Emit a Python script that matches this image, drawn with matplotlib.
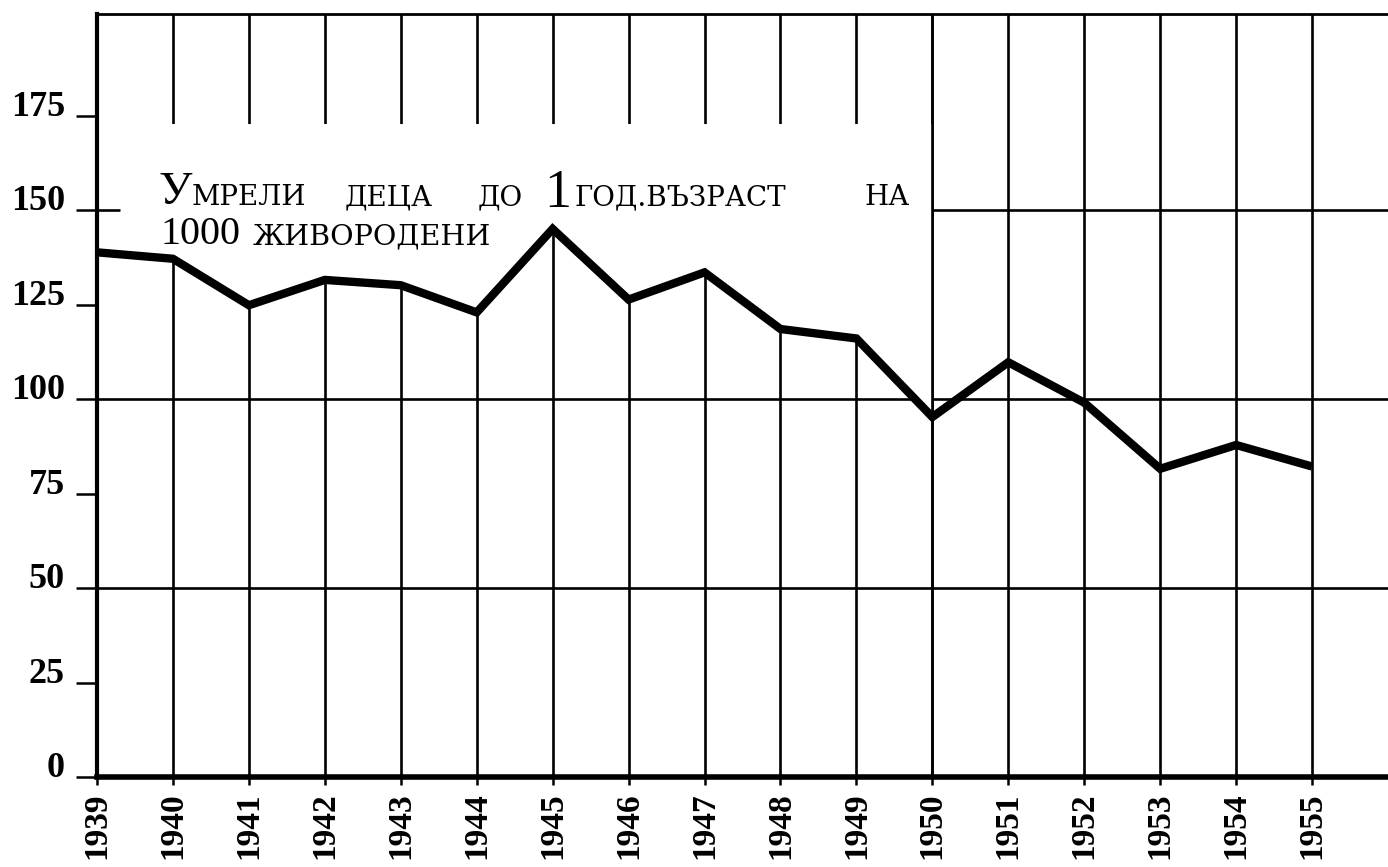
import matplotlib
matplotlib.use("Agg")
import matplotlib.pyplot as plt

# ---- data ----
years = list(range(1939, 1956))
deaths = [138.9, 137.2, 124.9, 131.6, 130.2, 123.0, 145.1, 126.4, 133.6,
          118.6, 116.1, 95.3, 109.8, 99.1, 81.6, 87.9, 82.2]
y_ticks = [0, 25, 50, 75, 100, 125, 150, 175]
y_tick_labels = ["0", "25", "50", "75", "100", "125", "150", "175"]
x_tick_labels = [str(y) for y in years]
y_grid = [50, 100, 150]
mask_top = 173          # top of the blank area behind the caption
mask_last_year = 1950   # blank area spans 1939 .. 1950

W, H = 1388, 867
fig = plt.figure(figsize=(W / 100, H / 100), dpi=100)
ax = fig.add_axes([97 / W, 1 - 777 / H, 1 - 97 / W, (777 - 14) / H])
ax.set_xlim(1939, 1956)
ax.set_ylim(0, 202)

grid_lw = 1.9
# grid
ax.vlines(years, 0, 202, color="black", lw=grid_lw, zorder=1)
ax.hlines(y_grid, 1939, 1956, color="black", lw=grid_lw, zorder=1)

# blank area above the curve where the caption sits
n_mask = years.index(mask_last_year) + 1
ax.fill_between(years[:n_mask], deaths[:n_mask], mask_top,
                color="white", lw=0, zorder=2)
ax.vlines([mask_last_year], 0, 202, color="black", lw=grid_lw, zorder=2.5)
ax.hlines([150], 1939, 1939.3, color="black", lw=grid_lw, zorder=2.5)

# data line
ax.plot(years, deaths, color="black", lw=6, zorder=3,
        solid_joinstyle="miter", solid_capstyle="butt")

# spines
ax.spines["right"].set_visible(False)
ax.spines["left"].set_linewidth(3)
ax.spines["bottom"].set_linewidth(4)
ax.spines["top"].set_linewidth(2)

# ticks
tick_font = dict(family="Liberation Serif", weight="bold")
ax.set_yticks(y_ticks)
ax.set_yticklabels(y_tick_labels, fontsize=26, **tick_font)
for lab in ax.get_yticklabels():
    lab.set_verticalalignment("baseline")
ax.tick_params(axis="y", length=15, width=1.8, pad=8, direction="out")

ax.set_xticks(years)
ax.set_xticklabels(x_tick_labels, fontsize=24, rotation=90, **tick_font)
ax.tick_params(axis="x", length=6, width=1.8, pad=5, direction="out")

# caption (pieces placed at their positions)
def put(x, y, s, size, family):
    fig.text(x / W, 1 - y / H, s, fontsize=size, family=family,
             ha="left", va="baseline", color="black")

big = "Liberation Serif"
small = "DejaVu Serif"
put(158, 204, "У", 34, big)
put(192, 205, "МРЕЛИ", 20, small)
put(345, 205, "ДЕЦА", 20, small)
put(478, 205, "ДО", 20, small)
put(544, 207, "1", 39, big)
put(575, 205, "ГОД.ВЪЗРАСТ", 20, small)
put(864, 205, "НА", 20, small)
put(160, 244, "1000", 29, big)
put(253, 244, "ЖИВОРОДЕНИ", 20.5, small)

fig.savefig("out.png", dpi=100, facecolor="white")
